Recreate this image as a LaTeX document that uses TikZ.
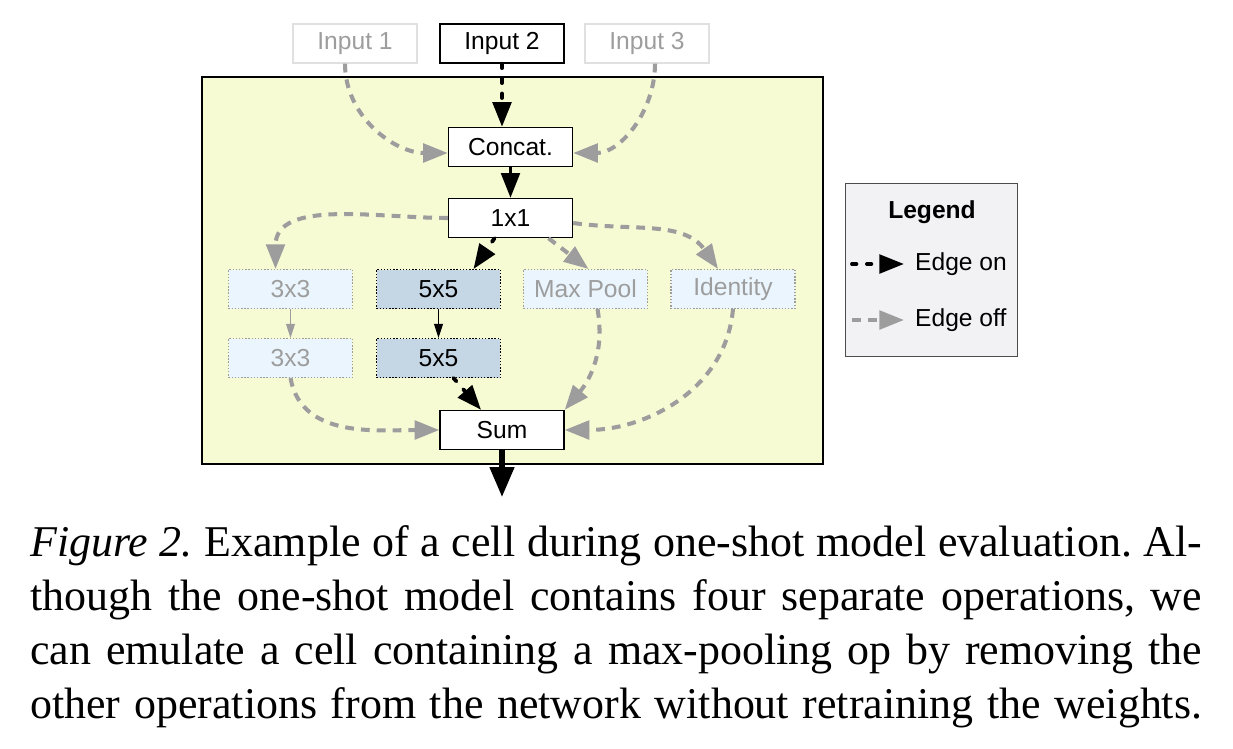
\documentclass[tikz,border=0pt]{standalone}
\usepackage{fontspec}
\setmainfont{Liberation Serif}
\setsansfont{Liberation Sans}
\usetikzlibrary{arrows.meta,calc}

\definecolor{cellyellow}{HTML}{F7FBD4}
\definecolor{opblue}{HTML}{EAF5FD}
\definecolor{onblue}{HTML}{C5D6E5}
\definecolor{offgray}{HTML}{9D9D9D}
\definecolor{legendgray}{HTML}{F2F2F4}
\frenchspacing

\begin{document}
\begin{tikzpicture}[x=0.02cm, y=0.02cm,
block/.style={rectangle, draw=black, fill=white, thick, minimum width=2.48cm, minimum height=0.78cm, inner sep=0pt, font=\sffamily\fontsize{14}{16}\selectfont},
inputoff/.style={block, draw=black!12, text=offgray},
opon/.style={block, fill=onblue, draw=black, densely dotted, semithick},
opoff/.style={block, fill=opblue, draw=offgray, densely dotted, semithick, text=offgray},
edgeon/.style={draw=black, line width=2.2pt, dash pattern=on 2.5pt off 6pt, line cap=round, -{Triangle[length=14pt, width=10.5pt]}},
edgeoff/.style={draw=offgray, line width=2.3pt, dash pattern=on 5pt off 4pt, -{Triangle[length=14pt, width=10.5pt]}},
edgesolid/.style={draw=black, line width=2pt, -{Triangle[length=14pt, width=10.5pt]}},
edgethin/.style={draw=black, line width=0.8pt, -{Triangle[length=8pt, width=5pt]}},
edgethinoff/.style={edgethin, draw=offgray},
edgebig/.style={draw=black, line width=3pt, -{Triangle[length=17pt, width=13.5pt]}},
legtext/.style={anchor=west, font=\sffamily\fontsize{14}{16}\selectfont},
captionline/.style={anchor=base west, inner sep=0pt, font=\fontsize{25}{30}\selectfont},
]
\useasboundingbox (0,0) rectangle (1233,-748);

% cell background
\node[draw=black, thick, fill=cellyellow, minimum width=12.42cm, minimum height=7.74cm, inner sep=0pt] (cell) at (512.5,-270.5) {};

% inputs
\node[inputoff] (in1) at (355,-43.5) {Input 1};
\node[block] (in2) at (502,-43.5) {Input 2};
\node[inputoff] (in3) at (647,-43.5) {Input 3};

% operations
\node[block] (concat) at (510.5,-147) {Concat.};
\node[block] (onexone) at (510.5,-218) {1x1};
\node[opoff] (threea) at (290.5,-289) {3x3};
\node[opon] (fivea) at (438.5,-289) {5x5};
\node[opoff] (maxpool) at (585.5,-289) {Max Pool};
\node[opoff] (identity) at (733,-289) {Identity};
\node[opoff] (threeb) at (290.5,-358) {3x3};
\node[opon] (fiveb) at (438.5,-358) {5x5};
\node[block] (sum) at (502,-430) {Sum};
\coordinate (out) at (502,-497);

% edges
\draw[edgeoff] ($(in1.south)+(-10,0)$) to[out=-90,in=180] ($(concat.west)+(0,-6)$);
\draw[edgeon] (in2.south) -- (in2.south |- concat.north);
\draw[edgeoff] ($(in3.south)+(8,0)$) to[out=-90,in=0] ($(concat.east)+(0,-6)$);
\draw[edgesolid] (concat) -- (onexone);
\draw[edgeoff] (onexone.west) to[out=180,in=90] ($(threea.north)+(-15,0)$);
\draw[edgeon] ($(onexone.south)+(-16,0)$) -- ($(fivea.north)+(35,0)$);
\draw[edgeoff] ($(onexone.south)+(38,0)$) -- ($(maxpool.north)+(3,0)$);
\draw[edgeoff] ($(onexone.east)+(0,-5)$) to[out=-8,in=125] ($(identity.north)+(-15,0)$);
\draw[edgethinoff] (threea) -- (threeb);
\draw[edgethin] (fivea) -- (fiveb);
\draw[edgeoff] (threeb.south) to[out=-80,in=180] (sum.west);
\draw[edgeon] ($(fiveb.south)+(15,0)$) -- ($(sum.north)+(-21,0)$);
\draw[edgeoff] ($(maxpool.south)+(12,0)$) to[out=-80,in=50] (sum.north east);
\draw[edgeoff] (identity.south) to[out=-95,in=0] (sum.east);
\draw[edgebig] (sum) -- (out);

% legend
\node[draw=black!70, fill=legendgray, minimum width=3.44cm, minimum height=3.46cm, inner sep=0pt] (legend) at (931.5,-270) {};
\node[font=\sffamily\bfseries\fontsize{14}{16}\selectfont] (legtitle) at (932,-212) {Legend};
\coordinate (onA) at (852,-264);
\coordinate (onB) at (904,-264);
\coordinate (offA) at (852,-320);
\coordinate (offB) at (904,-320);
\draw[edgeon] (onA) -- (onB);
\draw[edgeoff] (offA) -- (offB);
\node[legtext] (ontext) at (909,-264) {Edge on};
\node[legtext] (offtext) at (909,-320) {Edge off};

% caption
\node[captionline] (cap1) at (30,-556) {\makebox[23.44cm][s]{\textit{Figure 2.} Example of a cell during one-shot model evaluation. Al-}};
\node[captionline] (cap2) at (30,-610) {\makebox[23.44cm][s]{though the one-shot model contains four separate operations, we}};
\node[captionline] (cap3) at (30,-664) {\makebox[23.44cm][s]{can emulate a cell containing a max-pooling op by removing the}};
\node[captionline] (cap4) at (30,-718) {\makebox[23.44cm][s]{other operations from the network without retraining the weights.}};
\end{tikzpicture}
\end{document}
